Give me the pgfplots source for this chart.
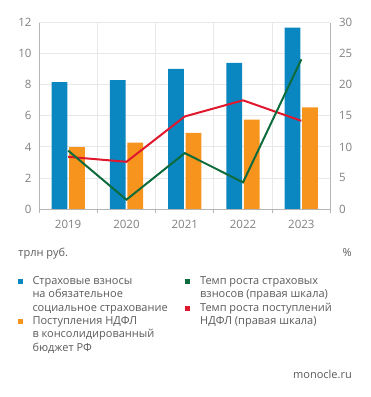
\documentclass[border=0pt]{standalone}
\usepackage{pgfplots}
\pgfplotsset{compat=1.18}
\usepackage{fontspec}
\setmainfont{Open Sans}
\definecolor{cblue}{HTML}{0A86C0}
\definecolor{corange}{HTML}{F7941D}
\definecolor{cgreen}{HTML}{0E6B3B}
\definecolor{cred}{HTML}{E0182D}
\definecolor{ctext}{HTML}{5A5A5A}
\definecolor{ctick}{HTML}{808080}
\definecolor{caxis}{HTML}{B5B5B5}
\definecolor{cgrid}{HTML}{E8E8E8}
\begin{document}
\begin{tikzpicture}[x=1pt,y=1pt]
\path[use as bounding box] (0,0) rectangle (371,397);
\begin{axis}[
  at={(39pt,188pt)}, anchor=south west,
  scale only axis, width=291.5pt, height=186.3pt,
  xmin=-0.5, xmax=4.5, ymin=0, ymax=12,
  xtick={0,1,2,3,4}, xticklabels={2019,2020,2021,2022,2023},
  minor xtick={-0.5,0.5,1.5,2.5,3.5,4.5},
  ytick={0,2,...,12},
  axis x line*=bottom, axis y line*=left,
  axis line style={draw=caxis,-, line width=0.8pt},
  major tick length=0pt, minor tick length=4pt,
  tick align=outside, tick style={draw=caxis, line width=0.8pt},
  ymajorgrids, xminorgrids,
  major grid style={draw=cgrid, line width=0.8pt},
  minor grid style={draw=cgrid, line width=0.8pt},
  /pgf/number format/assume math mode=true,
  tick label style={font=\fontsize{11.5}{12}\selectfont, text=ctick},
  yticklabel style={xshift=-4pt},
  xticklabel style={yshift=-8pt},
  clip=false,
]
\addplot[ybar, bar width=0.27, bar shift=-0.15, fill=cblue, draw=none]
  coordinates {(0,8.18) (1,8.30) (2,9.03) (3,9.42) (4,11.68)};
\addplot[ybar, bar width=0.27, bar shift=0.15, fill=corange, draw=none]
  coordinates {(0,3.98) (1,4.27) (2,4.90) (3,5.75) (4,6.55)};
\end{axis}
\begin{axis}[
  at={(39pt,188pt)}, anchor=south west,
  scale only axis, width=291.5pt, height=186.3pt,
  xmin=-0.5, xmax=4.5, ymin=0, ymax=30,
  axis x line=none, axis y line*=right,
  axis line style={draw=caxis,-, line width=0.8pt},
  ytick={0,5,...,30}, major tick length=0pt,
  /pgf/number format/assume math mode=true,
  tick label style={font=\fontsize{11.5}{12}\selectfont, text=ctick},
  yticklabel style={xshift=5pt},
  clip=false,
]
\addplot[cred, line width=2pt, mark=none]
  coordinates {(0,8.4) (1,7.6) (2,14.9) (3,17.5) (4,14.2)};
\addplot[cgreen, line width=2pt, mark=none]
  coordinates {(0,9.4) (1,1.5) (2,9.0) (3,4.3) (4,24.1)};
\end{axis}
\begin{scope}[every node/.style={inner sep=0pt, font=\fontsize{11}{13}\selectfont, text=ctext}]
\node[anchor=base west] at (18.3,140.7) {трлн руб.};
\node[anchor=base east] at (352,140.7) {\%};
\node[anchor=base east] at (352,19) {monocle.ru};
\fill[cblue] (18.2,113.2) rectangle +(4.8,4.8);
\fill[corange] (18.2,73.0) rectangle +(4.8,4.8);
\fill[cgreen] (185.2,113.2) rectangle +(4.8,4.8);
\fill[cred] (185.2,86.4) rectangle +(4.8,4.8);
\node[anchor=base west] at (32.3,112.7) {Страховые взносы};
\node[anchor=base west] at (32.3,99.3) {на обязательное};
\node[anchor=base west] at (32.3,85.9) {социальное страхование};
\node[anchor=base west] at (32.3,72.5) {Поступления НДФЛ};
\node[anchor=base west] at (32.3,59.1) {в консолидированный};
\node[anchor=base west] at (32.3,45.7) {бюджет РФ};
\node[anchor=base west] at (200,112.7) {Темп роста страховых};
\node[anchor=base west] at (200,99.3) {взносов (правая шкала)};
\node[anchor=base west] at (200,85.9) {Темп роста поступлений};
\node[anchor=base west] at (200,72.5) {НДФЛ (правая шкала)};
\end{scope}
\end{tikzpicture}
\end{document}
